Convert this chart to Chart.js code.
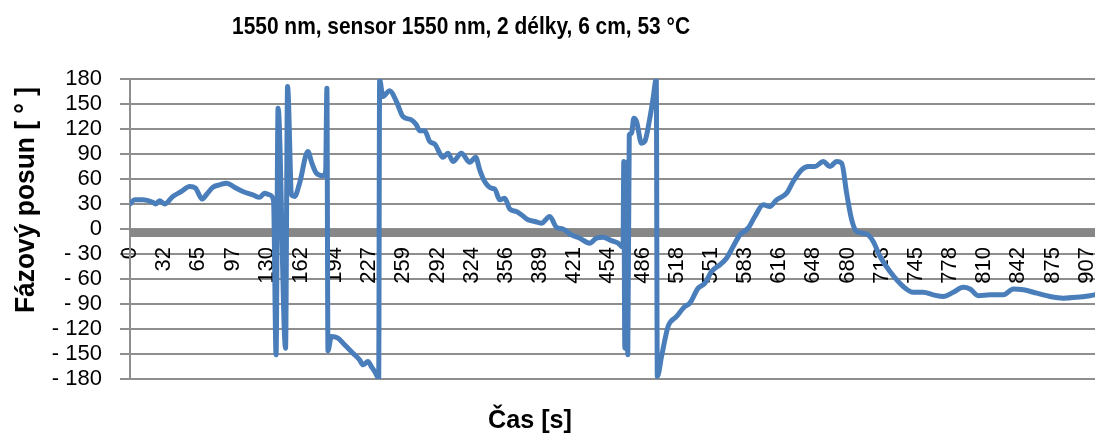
<!DOCTYPE html>
<html>
<head>
<meta charset="utf-8">
<script src="https://cdn.jsdelivr.net/npm/chart.js@4.4.1/dist/chart.umd.min.js"></script>
<style>
  html,body{margin:0;padding:0;background:#fff;}
  #wrap{width:1095px;height:440px;position:relative;}
</style>
</head>
<body>
<div id="wrap"><canvas id="phaseChart" width="1095" height="440"></canvas></div>
<script>
// Chart texts
const chartTitle = '1550 nm, sensor 1550 nm, 2 délky, 6 cm, 53 °C';
const xTitle = 'Čas [s]';
const yTitle = 'Fázový posun [ ° ]';

// Category labels shown on the time axis and where they sit (s)
const xTickValues = [0,32.4,64.8,97.2,129.6,162,194.4,226.8,259.2,291.6,324,356.4,388.8,421.2,453.6,486,518.4,550.8,583.2,615.6,648,680.4,712.8,745.2,777.6,810,842.4,874.8,907.2];
const xTickLabels = ['0','32','65','97','130','162','194','227','259','292','324','356','389','421','454','486','518','551','583','616','648','680','713','745','778','810','842','875','907'];

// Measured series: time [s] and phase shift [deg]
const timeS = [
  0,4.3,12.1,21.6,24.2,28,32.7,40.6,48.6,56.5,62.1,68.5,72.9,78.6,84.9,91.8,99.1,107,116.5,122.9,127.6,132.4,136.1,
  138.5,140.4,147.5,149.4,153.2,156.1,160.8,168.7,172.2,176.7,182.9,185.5,186.7,187.7,
  190.9,197.2,203.5,211.4,217.7,220.9,225.6,228.8,232,235.8,236.7,
  239.8,246.2,252.6,258.8,266.8,271.5,274.7,279.4,284.2,288.9,296.8,301.5,306.3,314.2,322.1,327.8,331.6,336.3,342.7,345.8,
  350.6,355.3,360.1,366.4,371.2,377.4,383.8,390.1,398,404.4,410.6,417,426.5,436,442.3,448.6,456.5,462.8,467.5,
  468.2,469.2,470.6,472,473.4,475.5,477.7,480.3,485,488.1,492.9,496,499,500,
  504,510.2,518.2,526.1,530.8,538.7,545.1,551.4,559.3,565.6,571.9,578.3,586.1,592.5,600.4,606.7,613.1,622.6,628.8,
  636.8,643.1,649.4,657.3,663.7,670,674.8,679.5,684.3,689,698.5,704.7,711.2,720.6,733.2,742.7,752.2,761.7,771.2,
  780.6,790.1,796.5,804.4,815.5,828.1,837.6,847.1,859.8,872.4,885,897.7,910.3,915
];
const phaseDeg = [
  30,35,35,32,30,34,30,39,45,51,49,36,42,50,53,55,50,45,41,38,43,41,34,
  -151,145,-143,171,41,39,55,93,80,67,64,69,169,-146,
  -129,-131,-139,-149,-157,-163,-159,-165,-171,-179,179,
  159,166,153,135,131,125,118,118,105,102,86,91,81,91,80,86,71,57,49,48,
  35,37,24,21,17,11,9,7,15,2,0,-6,-11,-17,-11,-10,-14,-17,-22,
  81,-143,80,-151,113,115,133,129,103,105,133,157,180,-177,
  -153,-117,-105,-93,-89,-71,-65,-51,-43,-35,-21,-7,1,15,29,27,35,43,57,
  71,75,75,81,75,81,79,43,11,-3,-6,-15,-33,-51,-69,-76,-76,-79,-81,
  -76,-70,-72,-80,-79,-79,-72,-73,-77,-81,-83,-82,-80,-79
];

// thick grey zero line, offset below the value like Excel draws it
const zeroBand = {
  id:'zeroBand',
  beforeDatasetsDraw(chart){
    const {ctx, chartArea, scales} = chart;
    const y0 = scales.y.getPixelForValue(0);
    ctx.save();
    ctx.fillStyle = '#878787';
    ctx.fillRect(chartArea.left, y0, chartArea.right - chartArea.left, 8);
    ctx.restore();
  }
};

// draw text centred at x, squeezed a bit if wider than maxW (Calibri is narrow)
function fitText(ctx, text, x, y, maxW){
  const w = ctx.measureText(text).width;
  const k = w > maxW ? maxW / w : 1;
  ctx.save();
  ctx.translate(x, y);
  ctx.scale(k, 1);
  ctx.fillText(text, 0, 0);
  ctx.restore();
}

// titles placed where the original (cropped) chart had them
const titles = {
  id:'titles',
  afterDraw(chart){
    const ctx = chart.ctx;
    ctx.save();
    ctx.fillStyle = '#000';
    ctx.textAlign = 'center';
    ctx.textBaseline = 'alphabetic';
    ctx.font = 'bold 24px "Liberation Sans", Arial, sans-serif';
    fitText(ctx, chartTitle, 461, 34, 458);
    ctx.font = 'bold 26px "Liberation Sans", Arial, sans-serif';
    fitText(ctx, xTitle, 530, 428, 84);
    ctx.translate(34, 200);
    ctx.rotate(-Math.PI/2);
    ctx.font = 'bold 27px "Liberation Sans", Arial, sans-serif';
    fitText(ctx, yTitle, 0, 0, 226);
    ctx.restore();
  }
};

const gridGrey = '#8e8e8e';

new Chart(document.getElementById('phaseChart'), {
  type:'line',
  data:{
    datasets:[{
      data: timeS.map((t,i)=>({x:t, y:phaseDeg[i]})),
      borderColor:'#4a7ebb',
      borderWidth:5,
      borderJoinStyle:'round',
      borderCapStyle:'round',
      cubicInterpolationMode:'monotone',
      pointRadius:0,
      fill:false
    }]
  },
  options:{
    responsive:false,
    animation:false,
    layout:{padding:{top:79,bottom:61,left:0,right:0}},
    plugins:{legend:{display:false},tooltip:{enabled:false},title:{display:false}},
    scales:{
      x:{
        type:'linear',
        position:{y:0},
        min:0, max:915,
        grid:{display:false, drawTicks:false},
        border:{display:false},
        afterBuildTicks(scale){ scale.ticks = xTickValues.map(v=>({value:v})); },
        afterFit(scale){ scale.paddingLeft = 0; scale.paddingRight = 0; },
        ticks:{
          autoSkip:false, minRotation:90, maxRotation:90, padding:18,
          color:'#000',
          font:{family:'"Liberation Sans", Arial, sans-serif', size:22},
          callback:(v,i)=>xTickLabels[i]
        }
      },
      y:{
        min:-180, max:180,
        afterFit(scale){ scale.width = 130; scale.paddingTop = 0; scale.paddingBottom = 0; },
        grid:{color:gridGrey, lineWidth:2, tickLength:10, drawTicks:true},
        border:{color:gridGrey, width:2},
        ticks:{
          autoSkip:false, stepSize:30, padding:18, color:'#000',
          font:{family:'"Liberation Sans", Arial, sans-serif', size:22},
          callback:v=> v < 0 ? '- ' + Math.abs(v) : String(v)
        }
      }
    }
  },
  plugins:[zeroBand, titles]
});
</script>
</body>
</html>
